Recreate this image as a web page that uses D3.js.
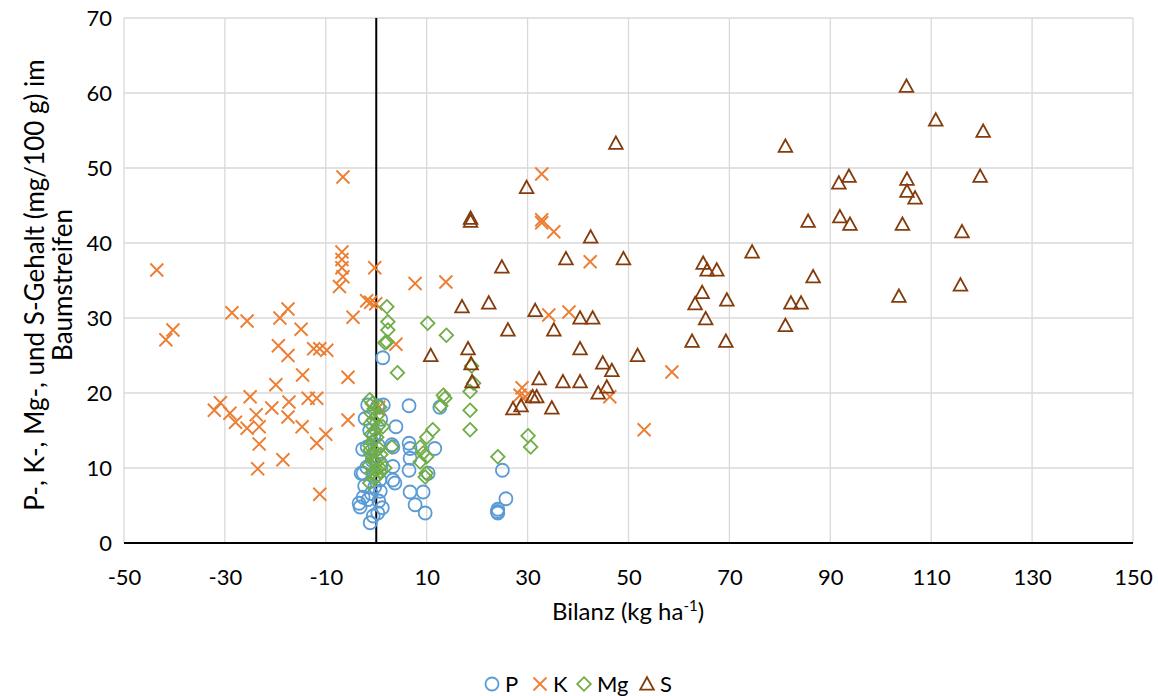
<!DOCTYPE html>
<html><head><meta charset="utf-8">
<script src="https://cdn.jsdelivr.net/npm/d3@7"></script>
<style>
body{margin:0;background:#fff;}
text{font-family:Lato,"Open Sans",sans-serif;fill:#000;}
</style></head><body>
<svg id="c" width="1158" height="696"></svg>
<script>
const xTicks = [-50,-30,-10,10,30,50,70,90,110,130,150];
const yTicks = [0,10,20,30,40,50,60,70];
const seriesNames = ["P","K","Mg","S"];
const seriesColors = ["#5B9BD5","#ED7D31","#70AD47","#843C0C"];

const P = [[1.3,24.7],[6.5,18.3],[1.4,18.4],[3.9,15.5],[6.5,13.3],[6.7,12.6],[3.1,13.1],[3.3,12.8],[11.6,12.6],[6.7,11.3],[6.5,9.7],[3.3,10.2],[3.3,8.4],[3.7,8.0],[6.7,6.8],[9.3,6.8],[7.7,5.1],[9.7,4.0],[12.6,18.1],[25.0,9.7],[25.7,5.9],[24.1,4.5],[24.1,4.0],[24.0,4.2],[-1.7,18.4],[0.3,18.3],[-1.2,2.7],[-3.2,4.8],[0.3,4.0],[1.2,4.7],[-2.6,6.1],[-1.9,10.1],[-1.8,12.8],[-2.6,9.3],[-0.3,7.5],[0.7,8.4],[-2.2,16.6],[-2.7,12.5],[-3.0,9.3],[-2.3,7.6],[-3.4,5.3],[-1.6,5.8],[-0.6,3.6],[0.5,5.6],[-1.0,6.6],[0.8,6.9],[-0.5,14.2],[0.4,13.0],[-1.3,15.0],[0.9,16.5],[-0.8,11.0],[1.0,10.5],[10.3,9.3]];
const K = [[-6.6,48.8],[-43.5,36.4],[-6.8,38.8],[-6.8,37.8],[-6.8,36.7],[-6.6,35.5],[-7.3,34.2],[-0.3,36.7],[-1.9,32.3],[-1.1,32.1],[-0.1,31.9],[-4.6,30.1],[-28.6,30.7],[-25.6,29.6],[-17.5,31.2],[-19.1,30.0],[-14.9,28.5],[-40.3,28.4],[-41.7,27.1],[-19.4,26.3],[-17.5,25.0],[-12.4,25.9],[-11.2,25.9],[-9.8,25.7],[-14.6,22.4],[-5.6,22.1],[-19.9,21.1],[-32.1,17.7],[-30.9,18.7],[-29.0,17.3],[-27.9,16.1],[-25.0,19.5],[-23.8,17.1],[-25.6,15.3],[-23.2,15.5],[-20.7,18.0],[-17.3,18.8],[-17.5,16.8],[-14.7,15.5],[-13.5,19.3],[-11.8,19.3],[-5.6,16.4],[-10.0,14.5],[-11.8,13.3],[-23.2,13.2],[-18.5,11.1],[-23.5,9.9],[-11.2,6.5],[3.9,26.5],[7.7,34.6],[13.8,34.8],[0.5,18.1],[32.8,49.2],[32.8,43.1],[32.8,42.7],[35.2,41.5],[42.4,37.5],[34.2,30.4],[38.2,30.8],[58.6,22.8],[28.9,20.7],[29.5,19.5],[28.5,19.7],[46.3,19.5],[53.1,15.1]];
const Mg = [[2.1,31.5],[2.3,29.5],[2.3,28.4],[2.1,26.8],[1.7,26.7],[4.2,22.7],[10.2,29.3],[13.9,27.7],[13.3,19.7],[13.6,19.3],[12.8,18.3],[18.6,20.2],[18.6,17.7],[18.6,15.1],[24.1,11.5],[30.1,14.3],[30.6,12.8],[18.9,23.6],[19.3,21.3],[11.2,15.1],[10.0,14.1],[8.7,12.8],[9.3,12.0],[8.7,10.8],[10.0,11.5],[9.7,8.8],[9.9,9.3],[3.1,12.8],[1.3,15.5],[1.7,10.0],[0.7,18.1],[-1.3,19.1],[-1.3,8.0],[-0.8,18.6],[-0.4,17.9],[-1.0,17.3],[0.2,17.0],[-0.6,16.4],[-1.2,15.9],[0.4,15.6],[-0.3,15.0],[-1.0,14.5],[0.1,14.1],[-0.7,13.6],[-1.3,13.0],[0.5,12.6],[-0.2,12.2],[-1.1,11.8],[0.3,11.3],[-0.5,10.9],[-1.4,10.4],[0.6,10.1],[-0.2,9.7],[-0.9,9.3],[0.2,8.9],[-1.2,12.4],[-0.6,11.1],[0.9,11.8],[0.7,9.5],[-0.4,8.6]];
const S = [[105.1,60.9],[110.9,56.4],[120.3,54.9],[47.5,53.3],[81.1,52.9],[93.7,48.9],[91.7,48.0],[105.2,48.5],[105.2,46.9],[106.8,46.0],[119.7,48.9],[29.8,47.4],[18.7,43.3],[18.7,42.9],[85.6,42.9],[91.9,43.5],[93.9,42.5],[104.3,42.5],[116.1,41.5],[42.5,40.8],[74.5,38.8],[37.6,37.9],[49.0,37.9],[24.9,36.8],[64.8,37.3],[65.6,36.4],[67.5,36.4],[86.6,35.5],[115.8,34.4],[64.6,33.4],[69.5,32.4],[63.2,31.9],[82.2,32.0],[84.2,32.0],[103.6,32.9],[17.0,31.5],[22.3,32.0],[31.5,31.0],[40.4,30.0],[42.9,30.0],[65.3,29.9],[81.1,29.0],[26.1,28.4],[35.2,28.4],[62.6,26.9],[69.3,26.9],[18.2,25.9],[40.4,25.9],[10.8,25.0],[51.8,25.0],[18.8,23.9],[44.9,24.0],[46.7,23.0],[19.0,21.5],[32.3,21.9],[37.0,21.5],[40.4,21.5],[45.7,20.8],[44.0,20.0],[31.0,19.5],[31.8,19.5],[27.1,17.9],[28.7,18.3],[34.8,18.0]];

const svg = d3.select("#c");
const L=124, R=1133, T=18, B=543;
const x = d3.scaleLinear().domain([-50,150]).range([L,R]);
const y = d3.scaleLinear().domain([0,70]).range([B,T]);
const FONT = "Lato,'Open Sans',sans-serif";

// gridlines
const g = svg.append("g");
g.selectAll(".vg").data(xTicks).enter().append("line")
  .attr("x1",d=>x(d)).attr("x2",d=>x(d)).attr("y1",T).attr("y2",B)
  .attr("stroke","#d9d9d9").attr("stroke-width",1.3);
g.selectAll(".hg").data(yTicks).enter().append("line")
  .attr("x1",L).attr("x2",R).attr("y1",d=>y(d)).attr("y2",d=>y(d))
  .attr("stroke","#d9d9d9").attr("stroke-width",1.3);

// axes with tick labels
const xAxis = d3.axisBottom(x).tickValues(xTicks).tickSize(0).tickPadding(0).tickFormat(d=>String(d));
const xa = svg.append("g").attr("transform",`translate(0,${B})`).call(xAxis);
xa.select(".domain").remove();
xa.selectAll("text").attr("font-size",22).attr("dy",0).attr("y",42)
  .style("font-family",FONT).attr("fill","#000");
const yAxis = d3.axisLeft(y).tickValues(yTicks).tickSize(0).tickPadding(0).tickFormat(d=>String(d));
const ya = svg.append("g").attr("transform",`translate(${L-12},0)`).call(yAxis);
ya.select(".domain").remove();
ya.selectAll("text").attr("font-size",22).attr("x",0).attr("dy","0.35em")
  .style("font-family",FONT).attr("fill","#000");

// axis lines crossing at 0
svg.append("line").attr("x1",L).attr("x2",R).attr("y1",y(0)).attr("y2",y(0)).attr("stroke","#000").attr("stroke-width",2);
svg.append("line").attr("x1",x(0)).attr("x2",x(0)).attr("y1",T).attr("y2",B).attr("stroke","#000").attr("stroke-width",2);

// markers
function drawMarker(sel, kind, color){
  if(kind==="P"){
    sel.append("circle").attr("r",6.5).attr("fill","none").attr("stroke",color).attr("stroke-width",1.8);
  } else if(kind==="K"){
    sel.append("path").attr("d","M-6.5,-6.5L6.5,6.5M-6.5,6.5L6.5,-6.5").attr("stroke",color).attr("stroke-width",1.8).attr("fill","none");
  } else if(kind==="Mg"){
    sel.append("path").attr("d","M0,-6.8L6.8,0L0,6.8L-6.8,0Z").attr("stroke",color).attr("stroke-width",1.8).attr("fill","none");
  } else {
    sel.append("path").attr("d","M0,-6.8L6.8,5.6L-6.8,5.6Z").attr("stroke",color).attr("stroke-width",1.8).attr("fill","none").attr("stroke-linejoin","miter");
  }
}
const data = [P,K,Mg,S];
seriesNames.forEach((nm,i)=>{
  const gg = svg.append("g");
  const pts = gg.selectAll("g").data(data[i]).enter().append("g")
    .attr("transform",d=>`translate(${x(d[0])},${y(d[1])})`);
  drawMarker(pts, nm, seriesColors[i]);
});

// axis titles
svg.append("text").attr("x",628).attr("y",620).attr("text-anchor","middle").attr("font-size",24)
  .html('Bilanz (kg ha<tspan dy="-9" font-size="15">-1</tspan><tspan dy="9">)</tspan>');
const yt = svg.append("text").attr("transform","translate(0,285) rotate(-90)").attr("text-anchor","middle").attr("font-size",26);
yt.append("tspan").attr("x",0).attr("y",44).text("P-, K-, Mg-, und S-Gehalt (mg/100 g) im");
yt.append("tspan").attr("x",0).attr("y",72).text("Baumstreifen");

// legend
const lg = svg.append("g").attr("transform","translate(0,684)");
const legX = [492,540,584,647];
seriesNames.forEach((nm,i)=>{
  const m = lg.append("g").attr("transform",`translate(${legX[i]},0)`);
  drawMarker(m, nm, seriesColors[i]);
  lg.append("text").attr("x",legX[i]+13).attr("y",0).attr("dy","0.36em").attr("font-size",22).text(nm);
});
</script></body></html>
